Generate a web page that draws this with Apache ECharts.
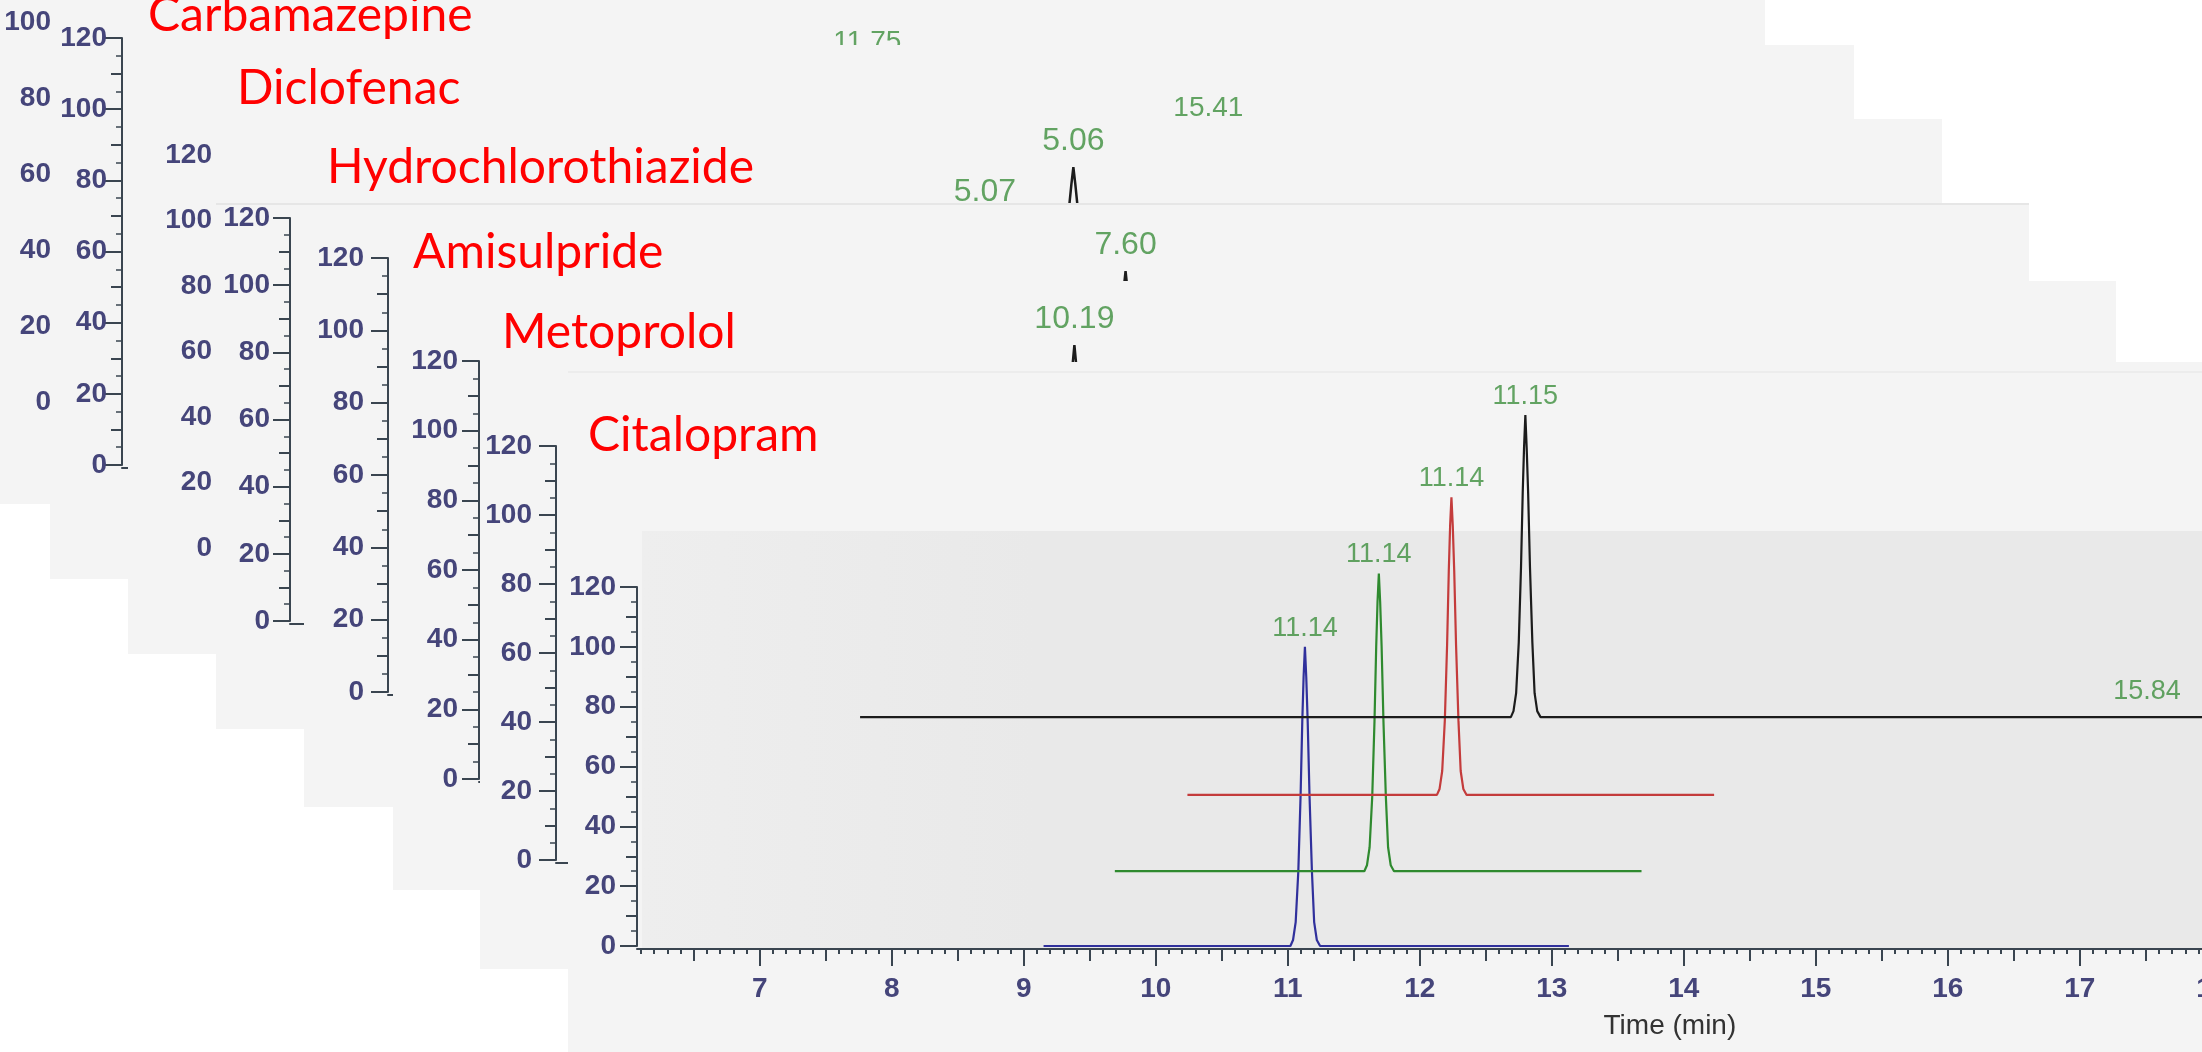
<!DOCTYPE html>
<html>
<head>
<meta charset="utf-8">
<script src="https://cdn.jsdelivr.net/npm/echarts@6/dist/echarts.min.js"></script>
<style>
html,body{margin:0;padding:0;background:#ffffff;}
#chart{width:2202px;height:1052px;}
</style>
</head>
<body>
<div id="chart"></div>
<script>
// ================= DATA =================
const compoundNames = ['Carbamazepine', 'Diclofenac', 'Hydrochlorothiazide', 'Amisulpride', 'Metoprolol', 'Citalopram'];
const yTickValues = [0, 20, 40, 60, 80, 100, 120];
const xTickValues = [7, 8, 9, 10, 11, 12, 13, 14, 15, 16, 17, 18];
const xAxisName = 'Time (min)';

// Front panel (Citalopram), stacked 3D-style traces: [displayed time, displayed intensity]
const citalopramBlue = [[9.15,0],[11.02,0],[11.04,2],[11.06,8],[11.08,25],[11.097,50],[11.11,75],[11.12,90],[11.13,100],[11.14,90],[11.151,75],[11.165,50],[11.183,25],[11.20,8],[11.22,2],[11.245,0],[13.13,0]];
const citalopramGreen = [[9.69,25],[11.58,25],[11.60,27],[11.62,33],[11.64,50],[11.657,75],[11.67,100],[11.68,115],[11.69,124.5],[11.70,115],[11.711,100],[11.725,75],[11.743,50],[11.76,33],[11.78,27],[11.805,25],[13.68,25]];
const citalopramRed = [[10.24,50.5],[12.13,50.5],[12.15,52.5],[12.17,58.5],[12.19,75.5],[12.207,100.5],[12.22,125.5],[12.23,140.5],[12.24,150],[12.25,140.5],[12.261,125.5],[12.275,100.5],[12.293,75.5],[12.31,58.5],[12.33,52.5],[12.355,50.5],[14.23,50.5]];
const citalopramBlack = [[7.76,76.5],[12.69,76.5],[12.71,78.5],[12.73,84.5],[12.75,101.5],[12.767,126.5],[12.78,151.5],[12.79,166.5],[12.80,177.5],[12.81,166.5],[12.821,151.5],[12.835,126.5],[12.853,101.5],[12.87,84.5],[12.89,78.5],[12.915,76.5],[18,76.5]];
const frontPeakTimes = [11.13, 11.69, 12.24, 12.80, 17.51];
const frontPeakHeights = [100, 124.5, 150, 177.5, 79];
const frontPeakLabels = ['11.14', '11.14', '11.14', '11.15', '15.84'];

// Back panels (mostly hidden behind the panels in front of them)
const backTraceA = [[10.5,0],[11.98,0],[12.03,40],[12.06,70],[12.08,80],[12.095,85],[12.11,89.7],[12.125,85],[12.14,80],[12.16,70],[12.19,40],[12.24,0],[14.0,0]];
const backTraceB = [[12.5,0],[14.17,0],[14.22,40],[14.25,70],[14.27,85],[14.285,90],[14.30,95],[14.315,90],[14.33,85],[14.35,70],[14.38,40],[14.43,0],[16.0,0]];
const backTraceC1 = [[10.0,2],[11.75,2],[11.80,40],[11.83,70],[11.85,85],[11.865,95],[11.88,100.8],[11.895,95],[11.91,85],[11.93,70],[11.96,40],[12.01,2],[13.5,2]];
const backTraceC2 = [[10.5,16],[12.42,16],[12.47,60],[12.50,90],[12.52,105],[12.535,111],[12.55,116.3],[12.565,111],[12.58,105],[12.60,90],[12.63,60],[12.68,16],[14.5,16]];
const backTraceD = [[10.5,4],[12.27,4],[12.32,46],[12.35,75],[12.37,90],[12.385,98.5],[12.40,104.2],[12.415,98.5],[12.43,90],[12.45,75],[12.48,46],[12.53,4],[14.5,4]];
const backTraceE = [[9.5,4],[11.14,4],[11.19,40],[11.22,70],[11.24,82],[11.255,90],[11.27,95.9],[11.285,90],[11.30,82],[11.32,70],[11.35,40],[11.40,4],[13.0,4]];
const backLabelPanel = [0, 1, 2, 2, 3, 4];
const backLabelTimes = [12.11, 14.30, 11.88, 12.55, 12.40, 11.27];
const backLabelHeights = [89.7, 95, 100.8, 116.3, 104.2, 95.9];
const backLabelTexts = ['11.75', '15.41', '5.07', '5.06', '7.60', '10.19'];

// ================= LAYOUT / STYLE =================
const X_MIN = 6.07, X_MAX = 18, PX_PER_MIN = 132;
const GRID_W = (X_MAX - X_MIN) * PX_PER_MIN;
const AXIS_COLOR = '#3a4550';
const LABEL_COLOR = '#45457a';
const PEAK_COLOR = '#3d8f3d';
const FONT = '"Liberation Sans", Arial, Helvetica, sans-serif';
const TITLE_FONT = 'Lato, "Open Sans", sans-serif';
const AXIS_FS = 28;

const PANELS = [
  {rect:[0,-10,1765,514],   axisX:70,  y120:-54, y0:402, line:false, ticks:false, margin:19, xline:false},
  {rect:[50,45,1804,534],   axisX:122, y120:38,  y0:465, line:true,  ticks:true,  margin:15, xline:true},
  {rect:[128,119,1814,535], axisX:218, y120:155, y0:548, line:false, ticks:false, margin:6,  xline:false},
  {rect:[216,204,1813,525], axisX:290, y120:218, y0:621, line:true,  ticks:true,  margin:20, xline:true},
  {rect:[304,281,1812,526], axisX:388, y120:258, y0:692, line:true,  ticks:true,  margin:24, xline:true},
  {rect:[393,362,1820,528], axisX:479, y120:361, y0:779, line:true,  ticks:true,  margin:21, xline:true},
  {rect:[480,362,1730,607], axisX:556, y120:446, y0:860, line:true,  ticks:true,  margin:24, xline:true},
  {rect:[568,372,1640,690], axisX:637, y120:587, y0:946, line:true,  ticks:true,  margin:21, xline:true}
];
const TITLE_POS = [[148,-8],[237,65],[327,144],[413,229],[502,309],[588,412]];
const TRACE_COLORS = ['#30309c', '#2f8a2f', '#c43c3c', '#1c1c1c'];

const grid = [], xAxis = [], yAxis = [], series = [], gfx = [];
const xIdx = [], yIdx = [];

PANELS.forEach((p, k) => {
  const zb = 10 * k;
  const front = (k === PANELS.length - 1);
  gfx.push({type:'rect', silent:true, z:zb, shape:{x:p.rect[0], y:p.rect[1], width:p.rect[2], height:p.rect[3]}, style:{fill:'#f4f4f4'}});
  grid.push({left:p.axisX, top:p.y120, width:GRID_W, height:p.y0 - p.y120, show:false, outerBoundsMode:'none', z:zb + 1});

  xIdx[k] = xAxis.length;
  xAxis.push({
    type:'value', gridIndex:k, position:'bottom', min:X_MIN, max:X_MAX, offset:3, z:zb + 3,
    axisLine:{show:p.xline, onZero:false, lineStyle:{color:AXIS_COLOR, width:2}},
    axisTick:{show:front, length:17, customValues:xTickValues, lineStyle:{color:AXIS_COLOR, width:2}},
    axisLabel:{show:front, customValues:xTickValues, margin:26, color:LABEL_COLOR, fontSize:AXIS_FS, fontWeight:'bold', fontFamily:FONT},
    splitLine:{show:false},
    name: front ? xAxisName : '', nameLocation:'middle', nameGap:63, nameMoveOverlap:false,
    nameTextStyle:{color:'#333333', fontSize:28, fontFamily:FONT, padding:[0,0,0,491]}
  });

  yIdx[k] = yAxis.length;
  yAxis.push({
    type:'value', gridIndex:k, position:'left', min:0, max:120, interval:20, z:zb + 3,
    axisLine:{show:p.line, onZero:false, lineStyle:{color:AXIS_COLOR, width:2}},
    axisTick:{show:p.ticks, length:17, customValues:yTickValues, lineStyle:{color:AXIS_COLOR, width:2}},
    minorTick:{show:p.ticks, splitNumber:4, length:6, lineStyle:{color:AXIS_COLOR, width:1.5}},
    axisLabel:{show:true, customValues:yTickValues, margin:p.margin, color:LABEL_COLOR, fontSize:AXIS_FS, fontWeight:'bold', fontFamily:FONT},
    splitLine:{show:false}, minorSplitLine:{show:false}
  });
  if (p.ticks) {
    yAxis.push({
      type:'value', gridIndex:k, position:'left', min:0, max:120, interval:10, z:zb + 3,
      axisLine:{show:false, onZero:false}, axisLabel:{show:false}, splitLine:{show:false},
      axisTick:{show:true, length:11, lineStyle:{color:AXIS_COLOR, width:2}}
    });
  }
});

// front panel plot area + subtle panel edges
gfx.push({type:'rect', silent:true, z:71, shape:{x:642, y:531, width:1570, height:417},
  style:{fill:new echarts.graphic.LinearGradient(0,0,1,0,[{offset:0,color:'#eeeeee'},{offset:0.25,color:'#e9e9e9'},{offset:1,color:'#e9e9e9'}])}});
gfx.push({type:'line', silent:true, z:30.5, shape:{x1:216, y1:204, x2:2029, y2:204}, style:{stroke:'#e6e6e6', lineWidth:2}});
gfx.push({type:'line', silent:true, z:70.5, shape:{x1:568, y1:372, x2:2202, y2:372}, style:{stroke:'#ececec', lineWidth:2}});

// front x-axis medium (0.5) and minor (0.1) ticks
const halfTicks = [], tenthTicks = [];
for (let i = 61; i <= 180; i++) {
  if (i % 10 === 0) continue;
  (i % 5 === 0 ? halfTicks : tenthTicks).push(i / 10);
}
[[halfTicks, 12], [tenthTicks, 5]].forEach(([vals, len]) => {
  xAxis.push({
    type:'value', gridIndex:7, position:'bottom', min:X_MIN, max:X_MAX, offset:3, z:73,
    axisLine:{show:false, onZero:false}, axisLabel:{show:false}, splitLine:{show:false},
    axisTick:{show:true, length:len, customValues:vals, lineStyle:{color:AXIS_COLOR, width:2}}
  });
});

// front traces
[citalopramBlue, citalopramGreen, citalopramRed, citalopramBlack].forEach((d, i) => {
  series.push({type:'line', xAxisIndex:xIdx[7], yAxisIndex:yIdx[7], data:d, symbol:'none', showSymbol:false,
    clip:false, silent:true, z:75, lineStyle:{color:TRACE_COLORS[i], width:2.2}});
});
series.push({type:'scatter', xAxisIndex:xIdx[7], yAxisIndex:yIdx[7], symbolSize:0, clip:false, silent:true, z:76,
  data: frontPeakTimes.map((t, i) => ({value:[t, frontPeakHeights[i]], name:frontPeakLabels[i]})),
  label:{show:true, position:'top', distance:5, formatter:(q) => q.name, color:PEAK_COLOR, fontSize:27, fontFamily:FONT}});

// back traces
[[backTraceA,0],[backTraceB,1],[backTraceC1,2],[backTraceC2,2],[backTraceD,3],[backTraceE,4]].forEach(([d, k]) => {
  series.push({type:'line', xAxisIndex:xIdx[k], yAxisIndex:yIdx[k], data:d, symbol:'none', showSymbol:false,
    clip:false, silent:true, z:10 * k + 5, lineStyle:{color:'#1c1c1c', width:2.5}});
});
backLabelTexts.forEach((txt, i) => {
  const k = backLabelPanel[i];
  const big = k >= 2;
  series.push({type:'scatter', xAxisIndex:xIdx[k], yAxisIndex:yIdx[k], symbolSize:0, clip:false, silent:true, z:10 * k + 6,
    data:[{value:[backLabelTimes[i], backLabelHeights[i]], name:txt}],
    label:{show:true, position:'top', distance: big ? 10 : 5, formatter:(q) => q.name, color:PEAK_COLOR,
      fontSize: big ? 32 : 28, fontFamily:FONT}});
});

const option = {
  backgroundColor:'#ffffff',
  animation:false,
  title: compoundNames.map((n, i) => ({
    text:n, left:TITLE_POS[i][0], top:TITLE_POS[i][1], padding:0, z:100,
    textStyle:{color:'#ff0000', fontSize:48, fontWeight:'normal', fontFamily:TITLE_FONT}
  })),
  graphic:{elements:gfx},
  grid, xAxis, yAxis, series
};

const chart = echarts.init(document.getElementById('chart'), null, {renderer:'canvas'});
chart.setOption(option);
</script>
</body>
</html>
